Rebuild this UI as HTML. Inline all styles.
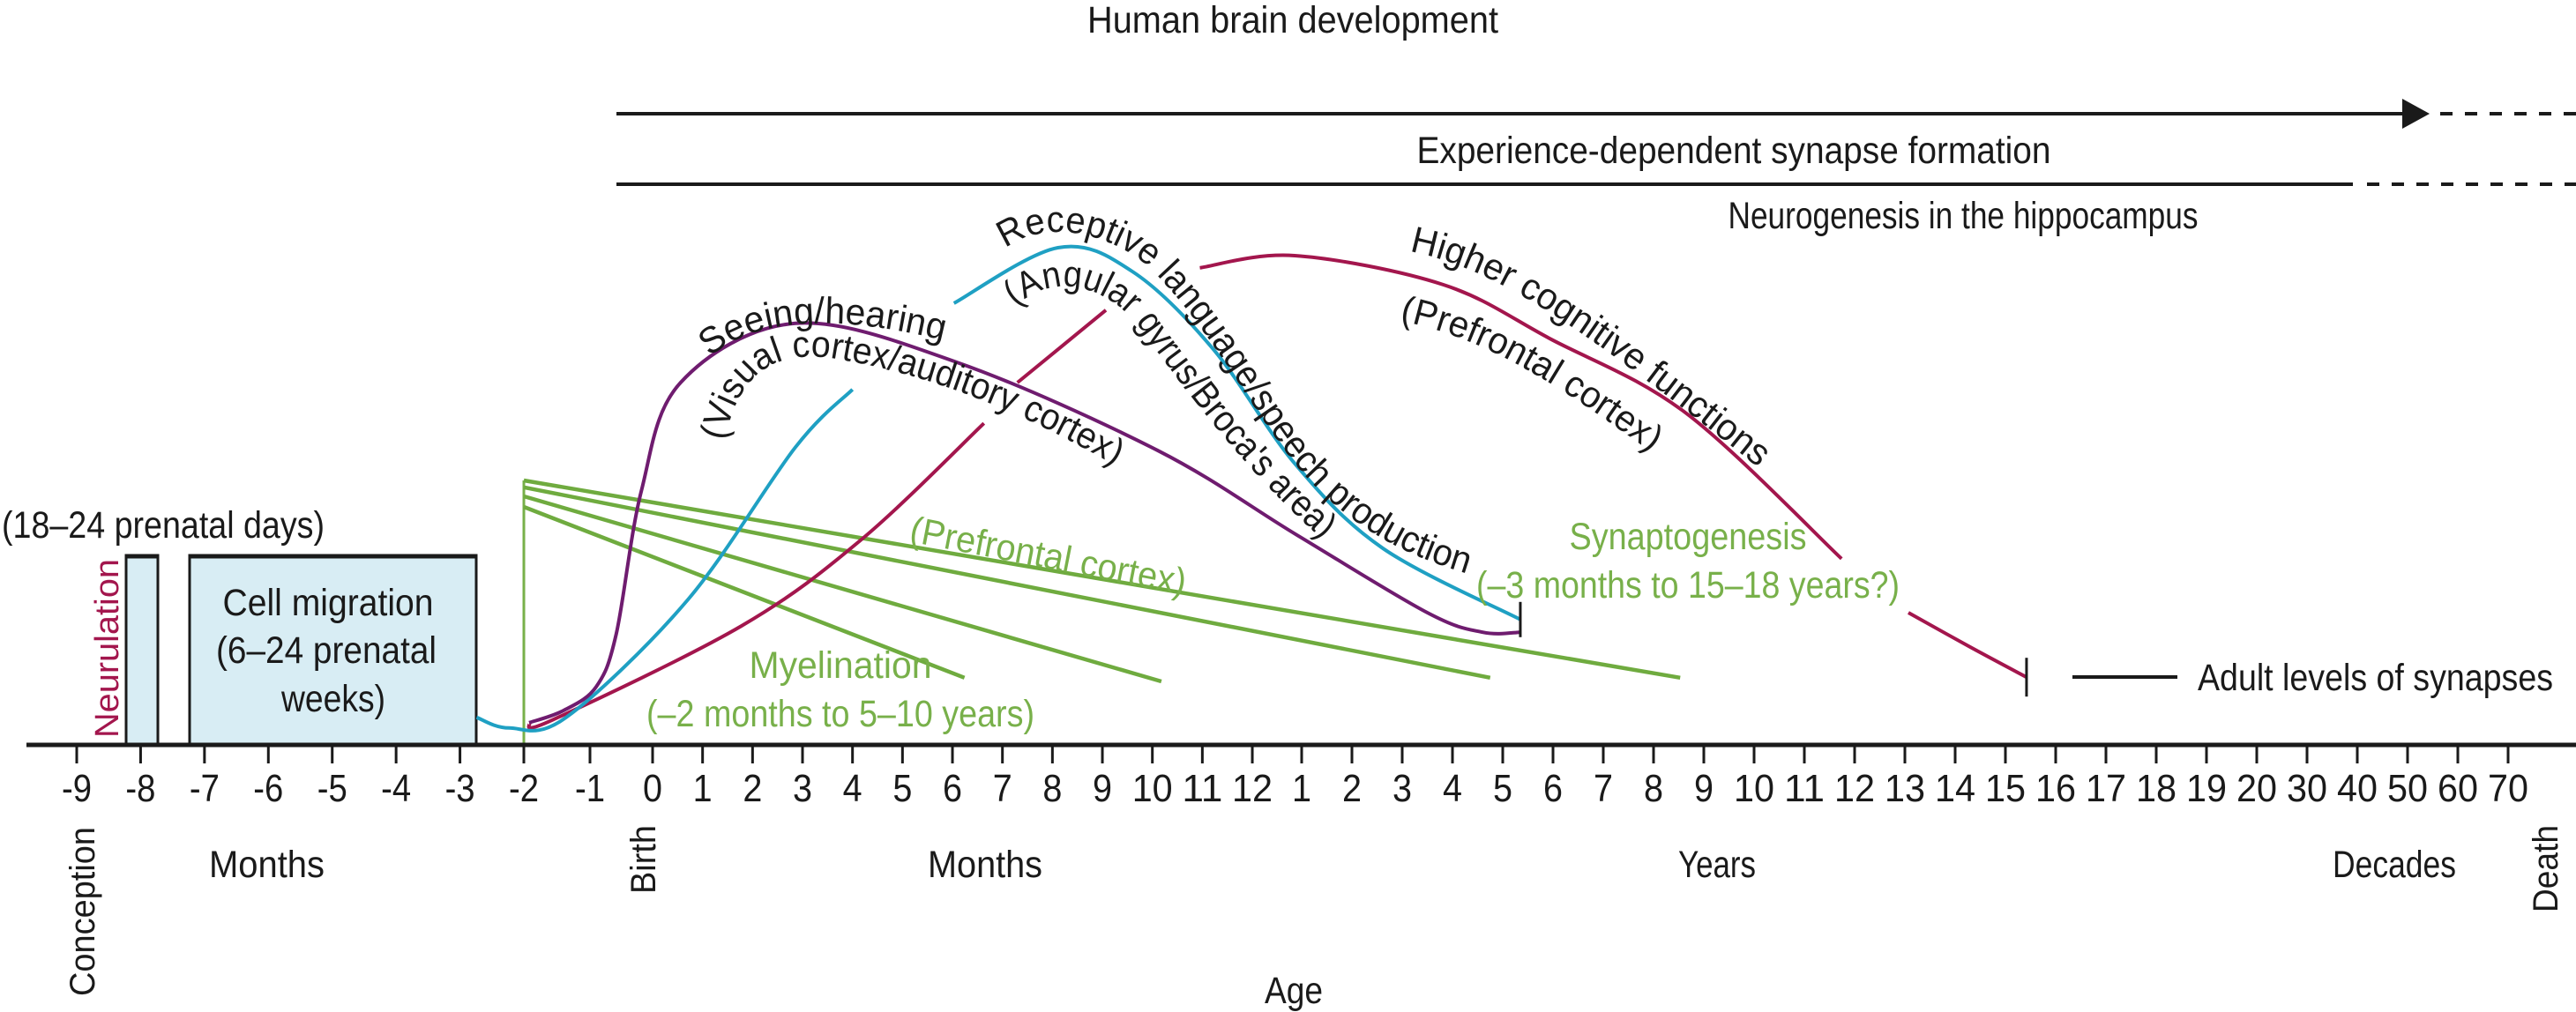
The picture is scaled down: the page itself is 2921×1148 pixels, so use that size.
<!DOCTYPE html>
<html><head><meta charset="utf-8"><style>
html,body{margin:0;padding:0;background:#fff;}
svg{display:block;}
text{font-family:"Liberation Sans",sans-serif;fill:#1a1a1a;}
</style></head><body>
<svg id="chart" width="2921" height="1148" viewBox="0 0 2921 1148" xmlns="http://www.w3.org/2000/svg">
<defs>
<path id="p-seeing" d="M 805,405 Q 880,340 1065,385"/>
<path id="p-visual" d="M 822,500 C 837,420 882,398 942,406 C 1042,422 1152,460 1284,540"/>
<path id="p-receptive" d="M 1140,282 C 1190,245 1262,268 1302,302 C 1380,380 1420,470 1480,540 C 1540,605 1600,632 1668,652"/>
<path id="p-angular" d="M 1152,348 C 1202,302 1264,332 1294,374 C 1347,447 1422,547 1514,624"/>
<path id="p-higher" d="M 1598,285 C 1700,305 1800,375 2012,545"/>
<path id="p-pfc" d="M 1587,364 C 1682,382 1764,434 1874,514"/>
</defs>

<text x="1466" y="37" font-size="43" text-anchor="middle" textLength="466" lengthAdjust="spacingAndGlyphs">Human brain development</text>
<line x1="699" y1="129" x2="2728" y2="129" stroke="#1a1a1a" stroke-width="4"/>
<polygon points="2724,112 2755,129 2724,146" fill="#1a1a1a"/>
<line x1="2767" y1="129" x2="2921" y2="129" stroke="#1a1a1a" stroke-width="4" stroke-dasharray="14,14"/>
<text x="1966" y="185" font-size="43" text-anchor="middle" textLength="719" lengthAdjust="spacingAndGlyphs">Experience-dependent synapse formation</text>
<line x1="699" y1="209" x2="2668" y2="209" stroke="#1a1a1a" stroke-width="4"/>
<line x1="2684" y1="209" x2="2921" y2="209" stroke="#1a1a1a" stroke-width="4" stroke-dasharray="14,14"/>
<text x="2226" y="259" font-size="43" text-anchor="middle" textLength="533" lengthAdjust="spacingAndGlyphs">Neurogenesis in the hippocampus</text>

<text x="2" y="610" font-size="43" textLength="366" lengthAdjust="spacingAndGlyphs">(18–24 prenatal days)</text>
<rect x="143" y="630" width="36" height="214" fill="#d8edf4" stroke="#1a1a1a" stroke-width="3"/>
<line x1="142" y1="631" x2="180" y2="631" stroke="#1a1a1a" stroke-width="5"/>
<text transform="translate(134,837) rotate(-90)" font-size="38" textLength="203" lengthAdjust="spacingAndGlyphs" style="fill:#a3164d">Neurulation</text>
<rect x="215" y="630" width="325" height="214" fill="#d8edf4" stroke="#1a1a1a" stroke-width="3"/>
<line x1="214" y1="631" x2="541" y2="631" stroke="#1a1a1a" stroke-width="5"/>
<text font-size="43" text-anchor="middle">
<tspan x="378" y="698" textLength="239" lengthAdjust="spacingAndGlyphs">Cell migration</tspan>
<tspan x="376" y="752" textLength="250" lengthAdjust="spacingAndGlyphs">(6–24 prenatal</tspan>
<tspan x="378" y="807" textLength="118" lengthAdjust="spacingAndGlyphs">weeks)</tspan>
</text>

<g id="marks"></g>

<text font-size="42"><textPath href="#p-seeing" textLength="275" lengthAdjust="spacingAndGlyphs">Seeing/hearing</textPath></text>
<text font-size="42"><textPath href="#p-visual" textLength="520" lengthAdjust="spacingAndGlyphs">(Visual cortex/auditory cortex)</textPath></text>
<text font-size="42"><textPath href="#p-receptive" textLength="690" lengthAdjust="spacingAndGlyphs">Receptive language/speech production</textPath></text>
<text font-size="42"><textPath href="#p-angular" textLength="480" lengthAdjust="spacingAndGlyphs">(Angular gyrus/Broca's area)</textPath></text>
<text font-size="42"><textPath href="#p-higher" textLength="470" lengthAdjust="spacingAndGlyphs">Higher cognitive functions</textPath></text>
<text font-size="42"><textPath href="#p-pfc" textLength="325" lengthAdjust="spacingAndGlyphs">(Prefrontal cortex)</textPath></text>

<text transform="translate(1030,614) rotate(11)" font-size="42" textLength="318" lengthAdjust="spacingAndGlyphs" style="fill:#78b04a">(Prefrontal cortex)</text>
<text x="953" y="769" font-size="43" text-anchor="middle" textLength="207" lengthAdjust="spacingAndGlyphs" style="fill:#78b04a">Myelination</text>
<text x="953" y="824" font-size="43" text-anchor="middle" textLength="440" lengthAdjust="spacingAndGlyphs" style="fill:#78b04a">(–2 months to 5–10 years)</text>
<text x="1914" y="623" font-size="43" text-anchor="middle" textLength="269" lengthAdjust="spacingAndGlyphs" style="fill:#78b04a">Synaptogenesis</text>
<text x="1914" y="678" font-size="43" text-anchor="middle" textLength="480" lengthAdjust="spacingAndGlyphs" style="fill:#78b04a">(–3 months to 15–18 years?)</text>
<line x1="2350" y1="768" x2="2469" y2="768" stroke="#1a1a1a" stroke-width="4"/>
<text x="2492" y="783" font-size="43" textLength="403" lengthAdjust="spacingAndGlyphs">Adult levels of synapses</text>

<line x1="30" y1="845" x2="2921" y2="845" stroke="#1a1a1a" stroke-width="5"/>
<g id="ticks"></g>
<text transform="translate(107,1130) rotate(-90)" font-size="40" textLength="192" lengthAdjust="spacingAndGlyphs">Conception</text>
<text x="237" y="995" font-size="43" textLength="131" lengthAdjust="spacingAndGlyphs">Months</text>
<text transform="translate(743,1014) rotate(-90)" font-size="40" textLength="78" lengthAdjust="spacingAndGlyphs">Birth</text>
<text x="1052" y="995" font-size="43" textLength="130" lengthAdjust="spacingAndGlyphs">Months</text>
<text x="1903" y="995" font-size="43" textLength="88" lengthAdjust="spacingAndGlyphs">Years</text>
<text x="2645" y="995" font-size="43" textLength="140" lengthAdjust="spacingAndGlyphs">Decades</text>
<text transform="translate(2900,1035) rotate(-90)" font-size="40" textLength="99" lengthAdjust="spacingAndGlyphs">Death</text>
<text x="1467" y="1138" font-size="43" text-anchor="middle" textLength="66" lengthAdjust="spacingAndGlyphs">Age</text>
</svg>
<script>
const tickLabels = ["-9","-8","-7","-6","-5","-4","-3","-2","-1","0","1","2","3","4","5","6","7","8","9","10","11","12","1","2","3","4","5","6","7","8","9","10","11","12","13","14","15","16","17","18","19","20","30","40","50","60","70"];
const seeingHearing = [[7.08,4.2],[7.6,6.5],[8.1,11],[8.42,21],[8.82,48],[9.56,68.5],[11.86,79.7],[15.1,72.3],[19.1,55.7],[21.9,39.7],[24.5,25],[25.6,21.3],[26.35,21.3]];
const languageA = [[6.26,5.2],[6.77,3.2],[7.64,5.2],[9.71,27.5],[11.86,56.3],[13.0,67.2]];
const languageB = [[15.03,83.5],[17.11,94],[18.6,89.5],[20.22,74.8],[21.86,53.2],[23.61,37.2],[26.35,23.7]];
const higherA = [[7.08,4.2],[7.43,4.7],[10.78,22.5],[13.2,39],[15.63,60.8]];
const higherB = [[16.3,68.5],[18.07,82.2]];
const higherC = [[19.95,90.2],[21.86,92.5],[24.82,87],[26.96,76.7],[29.65,62.7],[32.74,35.2]];
const higherD = [[34.07,25],[35.3,18.5],[36.42,12.8]];
const myelinStart = [50,48.7,47,45];
const myelinEndAge = [29.53,25.75,19.18,15.24];
const myelinEndLevel = [12.7,12.7,12,12.7];
const myelinOriginAge = 7;

const NS="http://www.w3.org/2000/svg";
function xAt(i){
  if(i<=7) return 87+i*72.43;
  if(i<=8) return 594+(i-7)*75;
  if(i<=9) return 669+(i-8)*71;
  if(i<=21) return 740+(i-9)*56.67;
  if(i<=22) return 1420+(i-21)*56;
  return 1476+(i-22)*57;
}
function yAt(v){return 845-v*6;}

const tg=document.getElementById('ticks');
tickLabels.forEach((lab,i)=>{
  const x=xAt(i);
  const t=document.createElementNS(NS,'line');
  t.setAttribute('x1',x);t.setAttribute('x2',x);t.setAttribute('y1',845);t.setAttribute('y2',866);
  t.setAttribute('stroke','#1a1a1a');t.setAttribute('stroke-width','3');
  
  
  tg.appendChild(t);
  const tx=document.createElementNS(NS,'text');
  tx.setAttribute('x',x);tx.setAttribute('y',909);tx.setAttribute('font-size','44');tx.setAttribute('text-anchor','middle');
  if(lab.length>1){tx.setAttribute('textLength', lab.startsWith('-')?34:46);tx.setAttribute('lengthAdjust','spacingAndGlyphs');}
  else{tx.setAttribute('textLength',22);tx.setAttribute('lengthAdjust','spacingAndGlyphs');}
  tx.textContent=lab.replace('-','‐');
  
  
  tg.appendChild(tx);
});

function pathFrom(data){
  const p=data.map(d=>[xAt(d[0]),yAt(d[1])]);
  let s='M '+p[0][0]+','+p[0][1];
  for(let i=0;i<p.length-1;i++){
    const p0=p[Math.max(0,i-1)],p1=p[i],p2=p[i+1],p3=p[Math.min(p.length-1,i+2)];
    const c1=[p1[0]+(p2[0]-p0[0])/6,p1[1]+(p2[1]-p0[1])/6];
    const c2=[p2[0]-(p3[0]-p1[0])/6,p2[1]-(p3[1]-p1[1])/6];
    s+=' C '+c1[0]+','+c1[1]+' '+c2[0]+','+c2[1]+' '+p2[0]+','+p2[1];
  }
  return s;
}
const mg=document.getElementById('marks');
const gv=document.createElementNS(NS,'line');
gv.setAttribute('x1',xAt(myelinOriginAge));gv.setAttribute('x2',xAt(myelinOriginAge));
gv.setAttribute('y1',yAt(myelinStart[0]));gv.setAttribute('y2',845);
gv.setAttribute('stroke','#78b04a');gv.setAttribute('stroke-width','3');


mg.appendChild(gv);
myelinStart.forEach((s,i)=>{
  const l=document.createElementNS(NS,'line');
  l.setAttribute('x1',xAt(myelinOriginAge));l.setAttribute('y1',yAt(s));
  l.setAttribute('x2',xAt(myelinEndAge[i]));l.setAttribute('y2',yAt(myelinEndLevel[i]));
  l.setAttribute('stroke','#6fab3f');l.setAttribute('stroke-width','4.5');
  
  
  mg.appendChild(l);
});
function curve(data,color,name){
  const e=document.createElementNS(NS,'path');
  e.setAttribute('d',pathFrom(data));e.setAttribute('fill','none');
  e.setAttribute('stroke',color);e.setAttribute('stroke-width','4');
  
  
  mg.appendChild(e);
}
curve(higherA,'#a3164d','higher-cognitive-curve');
curve(higherB,'#a3164d','higher-cognitive-curve');
curve(higherC,'#a3164d','higher-cognitive-curve');
curve(higherD,'#a3164d','higher-cognitive-curve');
curve(languageA,'#1fa0c3','language-curve');
curve(languageB,'#1fa0c3','language-curve');
curve(seeingHearing,'#6f1c6f','seeing-hearing-curve');
function endTick(data,h,name){
  const d=data[data.length-1];
  const l=document.createElementNS(NS,'line');
  l.setAttribute('x1',xAt(d[0]));l.setAttribute('x2',xAt(d[0]));
  l.setAttribute('y1',yAt(d[1])-h);l.setAttribute('y2',yAt(d[1])+h);
  l.setAttribute('stroke','#1a1a1a');l.setAttribute('stroke-width','3');
  
  
  mg.appendChild(l);
}
endTick(languageB,20,'sensory-end-tick');
endTick(higherD,22,'higher-cognitive-end-tick');
</script>
</body></html>
